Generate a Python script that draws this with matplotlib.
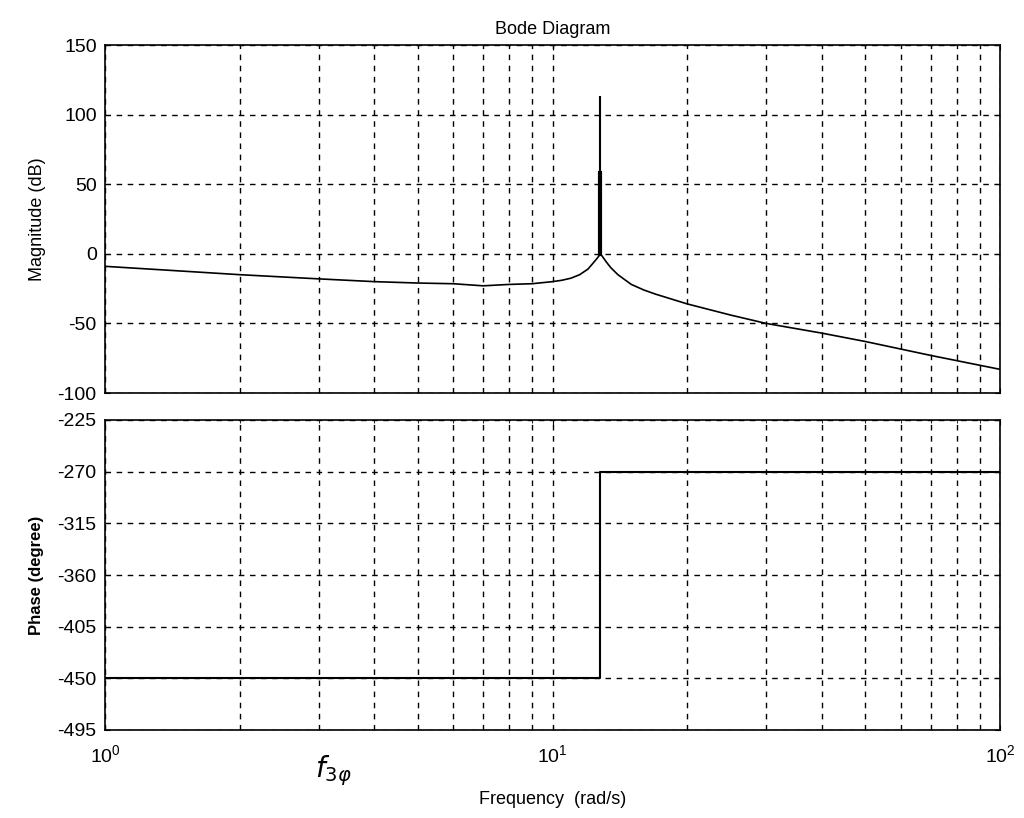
import matplotlib
matplotlib.use("Agg")
import matplotlib.pyplot as plt
import numpy as np

plt.rcParams['font.family'] = ['Liberation Sans', 'DejaVu Sans']
plt.rcParams['axes.unicode_minus'] = False

freq = [1, 1.5, 2, 3, 4, 5, 6, 7, 8, 9, 10, 10.5, 11, 11.5, 12, 12.3, 12.6, 12.8, 13.0, 13.2, 13.5, 14, 15, 16, 17, 20, 25, 30, 40, 50, 70, 100]
mag = [-9, -12.5, -15, -18, -20, -21, -21.5, -23, -22, -21.5, -20, -19, -17.5, -15, -11, -7, -3, 0, -3, -6, -10, -15, -22, -26, -29, -36, -44, -50, -57, -63, -73, -83]
peak_freq = 12.8
peak_top = 113
peak_thick = 58
phase_freq = [1, 12.8, 12.8, 100]
phase = [-450, -450, -270, -270]

fig = plt.figure(figsize=(10.24, 8.18), dpi=100)
ax1 = fig.add_axes([105/1024, 1-393/818, 895/1024, 348/818])
ax2 = fig.add_axes([105/1024, 1-730/818, 895/1024, 310/818])

ax1.plot(freq, mag, color='black', lw=1.2)
ax1.plot([peak_freq, peak_freq], [0, peak_top], color='black', lw=1.5)
ax1.plot([peak_freq, peak_freq], [0, peak_thick], color='black', lw=3)
ax2.plot(phase_freq, phase, color='black', lw=1.5)

for ax in (ax1, ax2):
    ax.set_xscale('log')
    ax.set_xlim(1, 100)
    ax.grid(True, which='both', axis='x', color='black', ls=(0, (4, 4)), lw=1)
    ax.grid(True, which='major', axis='y', color='black', ls=(0, (4, 4)), lw=1)
    ax.tick_params(which='both', direction='in', labelsize=14, top=True, right=True, pad=6)
    for s in ax.spines.values():
        s.set_linewidth(1.2)

ax1.set_ylim(-100, 150)
ax1.set_yticks([-100, -50, 0, 50, 100, 150])
ax1.tick_params(axis='x', which='both', labelbottom=False)
ax1.set_ylabel('Magnitude (dB)', fontsize=13, labelpad=8)
ax1.set_title('Bode Diagram', fontsize=13, pad=8)

ax2.set_ylim(-495, -225)
ax2.set_yticks([-495, -450, -405, -360, -315, -270, -225])
ax2.set_ylabel('Phase (degree)', fontsize=12, fontweight='bold', labelpad=10)
ax2.set_xlabel('Frequency  (rad/s)', fontsize=13, labelpad=18)
ax2.tick_params(axis='x', pad=10)
ax2.text(0.255, -0.13, r'$f_{3\varphi}$', transform=ax2.transAxes, fontsize=20, ha='center', va='center', family='DejaVu Serif')

fig.savefig('out.png', dpi=100)
